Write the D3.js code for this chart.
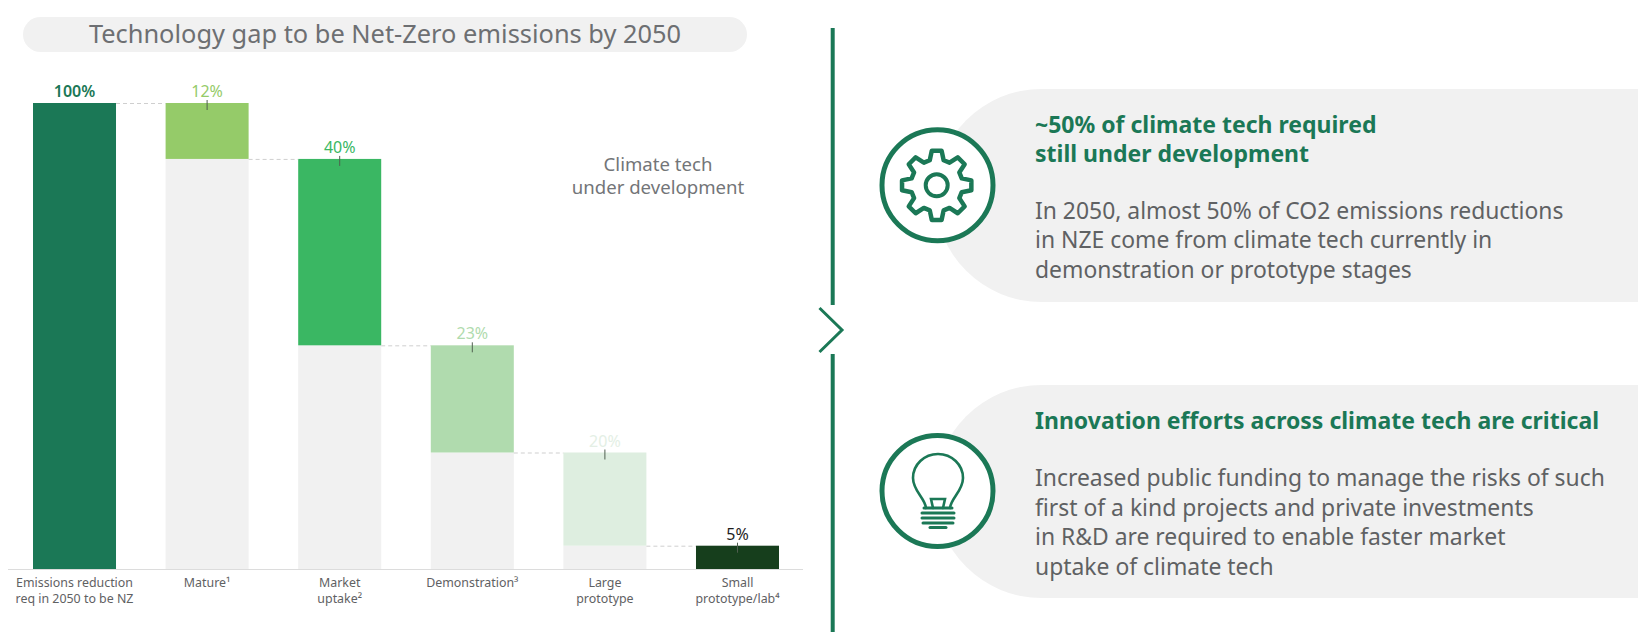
<!DOCTYPE html>
<html>
<head>
<meta charset="utf-8">
<script src="https://cdn.jsdelivr.net/npm/d3@7"></script>
<style>
  html, body { margin: 0; padding: 0; background: #fff; }
  svg { display: block; }
</style>
</head>
<body>
<svg id="chart"></svg>
<script>
// Define data
const categories = ["Emissions reduction|req in 2050 to be NZ", "Mature¹", "Market|uptake²", "Demonstration³", "Large|prototype", "Small|prototype/lab⁴"];
const values = [100, 12, 40, 23, 20, 5];
const valueLabels = ["100%", "12%", "40%", "23%", "20%", "5%"];
const barColors = ["#1b7856", "#95cb69", "#3ab763", "#b0dbae", "#deeee0", "#163e1c"];
const labelColors = ["#1b7856", "#95cb69", "#3ab763", "#b0dbae", "#e4efe5", "#1e1e1e"];

const panelOneHead = ["~50% of climate tech required", "still under development"];
const panelOneBody = ["In 2050, almost 50% of CO2 emissions reductions", "in NZE come from climate tech currently in", "demonstration or prototype stages"];
const panelTwoHead = ["Innovation efforts across climate tech are critical"];
const panelTwoBody = ["Increased public funding to manage the risks of such", "first of a kind projects and private investments", "in R&D are required to enable faster market", "uptake of climate tech"];

const width = 1638,
  height = 636;
const green = "#1b7856",
  grey = "#f1f1f1",
  textGrey = "#5f6163";
const font = "'Noto Sans', sans-serif";

let svg = d3.select("#chart").attr("width", width).attr("height", height);

// title pill
svg.append("rect").attr("x", 23).attr("y", 17).attr("width", 724).attr("height", 35).attr("rx", 17.5).attr("fill", grey);
svg.append("text")
  .attr("x", 385).attr("y", 43)
  .attr("text-anchor", "middle")
  .attr("font-family", font).attr("font-size", "25.4px").attr("fill", "#6d6f72")
  .text("Technology gap to be Net-Zero emissions by 2050");

// scales
let xScale = d3.scaleBand().domain(categories).range([33, 779]).paddingInner(0.374);
let yScale = d3.scaleLinear().domain([0, 100]).range([569, 103]);

// running waterfall: each step hangs off the previous bottom
let rows = [];
let level = 0;
categories.forEach(function (c, i) {
  let top = i == 0 ? values[0] : level;
  let bottom = i == 0 ? 0 : top - values[i];
  rows.push({ cat: c, top: top, bottom: bottom, i: i });
  level = i == 0 ? values[0] : bottom;
});

// grey under the floating bars
svg.selectAll(".under").data(rows.slice(1)).enter().append("rect")
  .attr("class", "under")
  .attr("x", (d) => xScale(d.cat))
  .attr("y", (d) => yScale(d.bottom))
  .attr("width", xScale.bandwidth())
  .attr("height", (d) => yScale(0) - yScale(d.bottom))
  .attr("fill", grey);

svg.selectAll(".bar").data(rows).enter().append("rect")
  .attr("class", "bar")
  .attr("x", (d) => xScale(d.cat))
  .attr("y", (d) => yScale(d.top))
  .attr("width", xScale.bandwidth())
  .attr("height", (d) => yScale(d.bottom) - yScale(d.top))
  .attr("fill", (d) => barColors[d.i]);

// dashed connectors
svg.selectAll(".connector").data(rows.slice(1)).enter().append("line")
  .attr("class", "connector")
  .attr("x1", (d) => xScale(rows[d.i - 1].cat) + xScale.bandwidth())
  .attr("x2", (d) => xScale(d.cat))
  .attr("y1", (d) => yScale(d.top) + 0.5)
  .attr("y2", (d) => yScale(d.top) + 0.5)
  .attr("stroke", "#cfcfcf").attr("stroke-width", 1).attr("stroke-dasharray", "4 3");

// small ticks over the bar tops
svg.selectAll(".mark").data(rows.slice(1)).enter().append("line")
  .attr("class", "mark")
  .attr("x1", (d) => xScale(d.cat) + xScale.bandwidth() / 2)
  .attr("x2", (d) => xScale(d.cat) + xScale.bandwidth() / 2)
  .attr("y1", (d) => yScale(d.top) - 3)
  .attr("y2", (d) => yScale(d.top) + 7)
  .attr("stroke", "#4f5f4f").attr("stroke-width", 1);

svg.selectAll(".value").data(rows).enter().append("text")
  .attr("class", "value")
  .attr("x", (d) => xScale(d.cat) + xScale.bandwidth() / 2)
  .attr("y", (d) => yScale(d.top) - 6)
  .attr("text-anchor", "middle")
  .attr("font-family", font).attr("font-size", "16px")
  .attr("font-weight", (d) => (d.i == 0 ? 600 : 400))
  .attr("fill", (d) => labelColors[d.i])
  .text((d) => valueLabels[d.i]);

// axis, tick text split over two lines
let xAxis = svg.append("g")
  .attr("transform", "translate(0, 569.5)")
  .call(d3.axisBottom(xScale).tickSize(0).tickPadding(0));
xAxis.select(".domain").remove();
xAxis.append("line").attr("x1", 8).attr("x2", 803).attr("stroke", "#dcdcdc").attr("stroke-width", 1.2);
xAxis.selectAll(".tick text")
  .attr("y", 0).attr("dy", null)
  .attr("font-family", font).attr("font-size", "12.4px").attr("fill", textGrey)
  .each(function (d) {
    let t = d3.select(this).text("");
    d.split("|").forEach(function (part, i) {
      t.append("tspan").attr("x", 0).attr("y", 17 + i * 16.5).text(part);
    });
  });

svg.append("g").selectAll("text").data(["Climate tech", "under development"]).enter().append("text")
  .attr("x", 658)
  .attr("y", (d, i) => 171 + i * 23)
  .attr("text-anchor", "middle")
  .attr("font-family", font).attr("font-size", "18.6px").attr("fill", "#737578")
  .text((d) => d);

// divider and chevron
svg.append("line").attr("x1", 832.7).attr("x2", 832.7).attr("y1", 28).attr("y2", 305).attr("stroke", green).attr("stroke-width", 4);
svg.append("line").attr("x1", 832.7).attr("x2", 832.7).attr("y1", 354).attr("y2", 632).attr("stroke", green).attr("stroke-width", 4);
svg.append("path").attr("d", "M819.5,308L842,330L819.5,352").attr("fill", "none").attr("stroke", green).attr("stroke-width", 3);

// right hand panels
function panel(top, bottom, cy, head, body, headY, bodyY) {
  let r = (bottom - top) / 2;
  svg.append("path")
    .attr("d", `M${width},${top}H${935 + r}A${r},${r} 0 0 0 ${935 + r},${bottom}H${width}Z`)
    .attr("fill", grey);
  svg.append("circle").attr("cx", 937.5).attr("cy", cy).attr("r", 55.5)
    .attr("fill", "#fff").attr("stroke", green).attr("stroke-width", 5);
  svg.append("g").selectAll("text").data(head).enter().append("text")
    .attr("x", 1035)
    .attr("y", (d, i) => headY + i * 29)
    .attr("font-family", font).attr("font-size", "23px").attr("font-weight", 700).attr("fill", green)
    .text((d) => d);
  svg.append("g").selectAll("text").data(body).enter().append("text")
    .attr("x", 1035)
    .attr("y", (d, i) => bodyY + i * 29.5)
    .attr("font-family", font).attr("font-size", "22.9px").attr("fill", textGrey)
    .text((d) => d);
}
panel(89, 302, 185.3, panelOneHead, panelOneBody, 133, 218.5);
panel(385, 598, 491, panelTwoHead, panelTwoBody, 429, 486);

// gear icon
let gearPts = [];
d3.range(8).forEach(function (i) {
  let a = (i * Math.PI) / 4;
  [[-0.27, 26], [-0.14, 35], [0.14, 35], [0.27, 26]].forEach((p) => gearPts.push([a + p[0], p[1]]));
});
let gear = svg.append("g").attr("transform", "translate(936.7,185.3)");
gear.append("path")
  .attr("d", d3.lineRadial().curve(d3.curveLinearClosed)(gearPts))
  .attr("fill", "none").attr("stroke", green).attr("stroke-width", 4.5).attr("stroke-linejoin", "round");
gear.append("circle").attr("r", 11).attr("fill", "none").attr("stroke", green).attr("stroke-width", 4);

// bulb icon
let bulb = svg.append("g").attr("transform", "translate(938,478)")
  .attr("fill", "none").attr("stroke", green).attr("stroke-width", 2.6).attr("stroke-linecap", "round");
bulb.append("path").attr("d", "M-12,30C-13,20 -25,13 -25,0A25,24 0 1 1 25,0C25,13 13,20 12,30");
bulb.append("path").attr("d", "M-5,30L-7,21H7L5,30");
bulb.append("path").attr("d", "M-14,30H14").attr("stroke-width", 3);
bulb.append("path").attr("d", "M-16,35H16").attr("stroke-width", 3);
bulb.append("path").attr("d", "M-16,40H16").attr("stroke-width", 3);
bulb.append("path").attr("d", "M-15,45H15").attr("stroke-width", 3);
bulb.append("path").attr("d", "M-8,49.5H8").attr("stroke-width", 3);
</script>
</body>
</html>
